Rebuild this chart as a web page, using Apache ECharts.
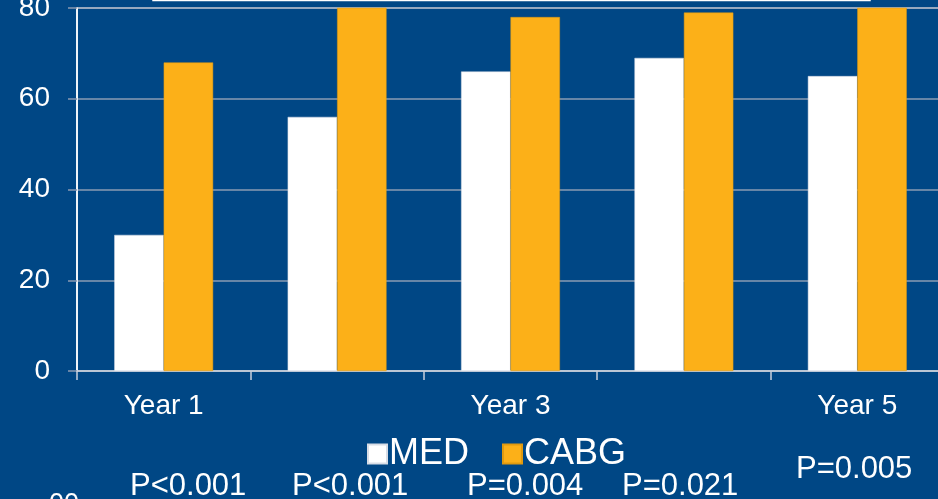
<!DOCTYPE html>
<html>
<head>
<meta charset="utf-8">
<script src="https://cdn.jsdelivr.net/npm/echarts@6/dist/echarts.min.js"></script>
<style>
  html, body { margin: 0; padding: 0; background: #004785; }
  #chart { width: 938px; height: 499px; }
</style>
</head>
<body>
<div id="chart"></div>
<script>
// Survival-free proportions by follow-up year, medical therapy vs. bypass surgery
const categories = ['Year 1', 'Year 2', 'Year 3', 'Year 4', 'Year 5'];
const medValues = [30, 56, 66, 69, 65];
const cabgValues = [68, 82, 78, 79, 82];
const yTicks = [0, 20, 40, 60, 80];
const pValues = ['P<0.001', 'P<0.001', 'P=0.004', 'P=0.021', 'P=0.005'];

// layout of the p-value row (x of left edge, y of text middle)
const pLayout = [[130, 486], [292, 486], [467, 486], [622, 486], [796, 469]];

const FONT = '"Liberation Sans", Arial, sans-serif';
const chart = echarts.init(document.getElementById('chart'));

const graphics = pValues.map((t, i) => ({
  type: 'text',
  style: {
    x: pLayout[i][0], y: pLayout[i][1], text: t,
    font: '31px ' + FONT, fill: '#ffffff',
    textAlign: 'left', textVerticalAlign: 'middle'
  }
}));
// edge of the boxed heading above the plot
graphics.push({
  type: 'rect',
  shape: { x: 153, y: -40, width: 717, height: 40.5 },
  style: { fill: 'none', stroke: '#ffffff', lineWidth: 1.5 }
});
// next panel's axis label peeking in at the bottom
graphics.push({
  type: 'text',
  style: {
    x: 49, y: 491, text: '00', font: '27px ' + FONT, fill: '#ffffff',
    textAlign: 'left', textVerticalAlign: 'top'
  }
});

chart.setOption({
  backgroundColor: '#004785',
  animation: false,
  grid: {
    left: 77, top: 8, right: -6, bottom: 128,
    outerBoundsMode: 'none',
    containLabel: false,
    show: true, borderColor: '#ffffff', borderWidth: 1.5,
    backgroundColor: 'transparent'
  },
  legend: {
    left: 362, top: 431,
    itemWidth: 19, itemHeight: 19, itemGap: 33,
    icon: 'rect',
    textStyle: { color: '#ffffff', fontSize: 36, fontFamily: FONT, padding: [0, 0, 0, -3] },
    data: ['MED', 'CABG']
  },
  xAxis: {
    type: 'category',
    data: categories,
    axisLine: { lineStyle: { color: '#c8d0dc', width: 1.5 } },
    axisTick: { show: true, interval: 0, length: 9, lineStyle: { color: '#c8d0dc', width: 1.5 } },
    axisLabel: { interval: 1, color: '#ffffff', fontSize: 28, fontFamily: FONT, margin: 21 }
  },
  yAxis: {
    type: 'value',
    min: yTicks[0], max: yTicks[yTicks.length - 1], interval: 20,
    axisLine: { show: true, lineStyle: { color: '#ffffff', width: 1.5 } },
    axisTick: { show: true, length: 9, lineStyle: { color: '#8a9bb3', width: 1.5 } },
    axisLabel: { color: '#ffffff', fontSize: 28, fontFamily: FONT, margin: 27 },
    splitLine: { lineStyle: { color: '#8a9bb3', width: 1.5 } }
  },
  series: [
    {
      name: 'MED', type: 'bar', data: medValues, clip: true,
      barGap: '0%', barCategoryGap: '43%',
      itemStyle: { color: '#ffffff', borderColor: '#d8dde6', borderWidth: 0.5 }
    },
    {
      name: 'CABG', type: 'bar', data: cabgValues, clip: true,
      barGap: '0%', barCategoryGap: '43%',
      itemStyle: { color: '#fcb018', borderColor: '#e09a10', borderWidth: 0.5 }
    }
  ],
  graphic: graphics
});
</script>
</body>
</html>
